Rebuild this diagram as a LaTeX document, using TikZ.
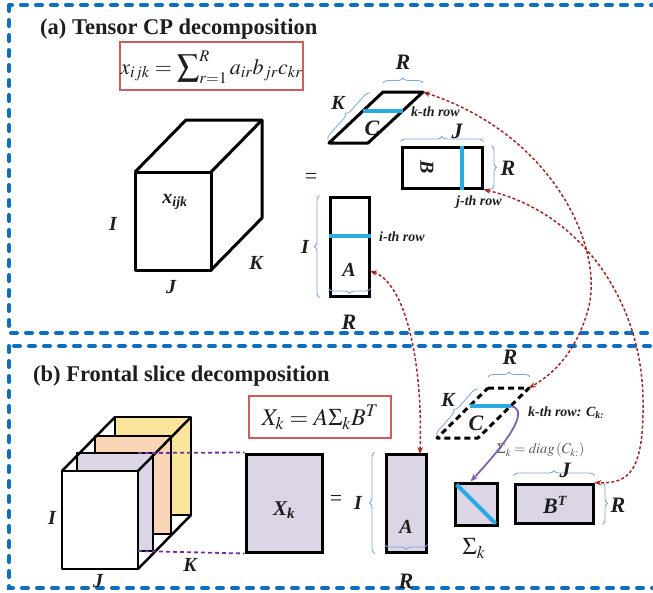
\documentclass[tikz,border=0pt]{standalone}
\usepackage{mathptmx}
\usepackage{fontspec}
\setmainfont{Liberation Serif}
\usetikzlibrary{arrows.meta,decorations.pathreplacing,calc}

\definecolor{frameblue}{RGB}{16,110,190}
\definecolor{rowblue}{RGB}{41,171,226}
\definecolor{bracecol}{RGB}{125,165,215}
\definecolor{linkred}{RGB}{160,40,40}
\definecolor{eqred}{RGB}{205,95,90}
\definecolor{slicepurple}{RGB}{220,213,230}
\definecolor{sliceorange}{RGB}{250,214,183}
\definecolor{sliceyellow}{RGB}{251,228,155}
\definecolor{guidepurple}{RGB}{112,48,160}
\definecolor{mappurple}{RGB}{128,100,170}
\definecolor{ink}{RGB}{30,30,30}

\newcommand{\fsz}[1]{\fontsize{#1}{#1}\selectfont}

\begin{document}
\begin{tikzpicture}[x=1pt,y=-1pt,
  frame/.style={frameblue, line width=4pt, dash pattern=on 6pt off 9pt, line cap=round},
  title/.style={anchor=base west, inner sep=0, text=ink, font=\fsz{22.5}\bfseries},
  eqbox/.style={draw=eqred, line width=1.3pt, inner sep=0, text=ink},
  mat/.style={draw=black, line width=3pt, inner sep=0},
  row/.style={rowblue, line width=4pt},
  lab/.style={inner sep=0, text=ink, font=\fsz{20}\bfseries\itshape},
  small/.style={inner sep=0, text=ink, font=\fsz{14}\bfseries\itshape},
  brace/.style={decorate, decoration={brace, amplitude=5pt}, bracecol, line width=0.8pt},
  link/.style={linkred, line width=1.5pt, dash pattern=on 3pt off 2.2pt,
    {Stealth[length=7pt,width=5.5pt]}-{Stealth[length=7pt,width=5.5pt]}},
  guide/.style={guidepurple, line width=1.8pt, dash pattern=on 4pt off 3pt},
  slice/.style={draw=black, line width=2.5pt, line join=round},
  cube/.style={draw=black, line width=3pt, line join=round},
  map/.style={mappurple, line width=1.8pt, -{Stealth[length=8pt,width=6pt]}}
]
\useasboundingbox (0,0) rectangle (653,592);
\clip (0,0) rectangle (653,592);

% dashed panel frames
\draw[frame] (9,5) rectangle (680,333);
\draw[frame] (9,346) rectangle (680,588);

% ---------------- (a) CP decomposition ----------------
\node[title] (ta) at (40,34) {(a) Tensor CP decomposition};
\node[eqbox, minimum width=183, minimum height=48] (eqa) at (211.5,66) {};
\node[inner sep=0, text=ink] (eqatext) at (211.5,67)
  {\fsz{22}$x_{ijk} = \displaystyle\sum\nolimits_{r=1}^{R} a_{ir} b_{jr} c_{kr}$};

% tensor cube
\coordinate (fTL) at (135,172);
\coordinate (fTR) at (211,172);
\coordinate (fBR) at (211,270);
\coordinate (fBL) at (135,270);
\coordinate (bTL) at (186,120);
\coordinate (bTR) at (262,120);
\coordinate (bBR) at (262,218);
\draw[cube] (fTL) rectangle (fBR);
\draw[cube] (fTL) -- (bTL) -- (bTR) -- (fTR);
\draw[cube] (bTR) -- (bBR) -- (fBR);
\node[lab] (xijk) at (175,202) {x\textsubscript{\fsz{14}ijk}};
\node[lab] (cI) at (113,224) {I};
\node[lab] (cJ) at (171,287) {J};
\node[lab] (cK) at (256,263) {K};
\node[inner sep=0, text=ink, font=\fsz{22}] (eqs) at (311,178) {=};

% factor C (parallelogram)
\coordinate (Ca-tl) at (383,92);
\coordinate (Ca-tr) at (423,92);
\coordinate (Ca-br) at (368,143);
\coordinate (Ca-bl) at (329,143);
\draw[cube] (Ca-tl) -- (Ca-tr) -- (Ca-br) -- (Ca-bl) -- cycle;
\draw[row] ($(Ca-tl)!0.37!(Ca-bl)$) -- ($(Ca-tr)!0.37!(Ca-br)$);
\node[lab, font=\fsz{22}\bfseries\itshape] (Cal) at (372,128) {C};
\node[small, anchor=west] (kra) at (411,112) {k-th row};
\coordinate (Ka1) at (328,140);
\coordinate (Ka2) at (370,93);
\draw[brace] (Ka1) -- (Ka2);
\node[lab] (Kal) at (338,103) {K};
\coordinate (Ra1) at (383,83);
\coordinate (Ra2) at (423,83);
\draw[brace] (Ra1) -- (Ra2);
\node[lab, font=\fsz{22}\bfseries\itshape] (Ral) at (403,62) {R};

% factor B
\node[mat, minimum width=80, minimum height=41] (Ba) at (442,167.5) {};
\draw[row] ($(Ba.north west)!0.74!(Ba.north east)$) -- ($(Ba.south west)!0.74!(Ba.south east)$);
\node[lab, rotate=-90] (Bal) at (427,167) {B};
\draw[brace] ([yshift=4]Ba.north west) -- ([yshift=4]Ba.north east);
\node[lab, font=\fsz{22}\bfseries\itshape] (Jb) at (457,131) {J};
\draw[brace] ([xshift=8]Ba.north east) -- ([xshift=8]Ba.south east);
\node[lab, font=\fsz{22}\bfseries\itshape] (Rb) at (508,168) {R};
\node[small] (jra) at (479,202) {j-th row};

% factor A
\node[mat, minimum width=39, minimum height=99] (Aa) at (349.5,246.5) {};
\draw[row] ($(Aa.north west)!0.4!(Aa.south west)$) -- ($(Aa.north east)!0.4!(Aa.south east)$);
\node[lab] (Aal) at (349,270) {A};
\node[small] (ira) at (402,237) {i-th row};
\draw[brace] ([xshift=-9]Aa.south west) -- ([xshift=-9]Aa.north west);
\node[lab] (IA) at (305,247) {I};
\draw[brace] ([yshift=9]Aa.south east) -- ([yshift=9]Aa.south west);
\node[lab, font=\fsz{22}\bfseries\itshape] (RA) at (349,322) {R};

% ---------------- (b) frontal slices ----------------
\node[title] (tb) at (33,381) {(b) Frontal slice decomposition};
\node[eqbox, minimum width=142, minimum height=42] (eqb) at (320,417) {};
\node[inner sep=0, text=ink] (eqbtext) at (320,417)
  {\fsz{24}$X_k = A\Sigma_k B^T$};

% stack of frontal slices
\draw[slice, fill=sliceyellow] (115,417) rectangle (191,515);
\draw[slice, fill=sliceorange] (95,436) rectangle (171,534);
\draw[slice, fill=slicepurple] (77,453) rectangle (153,551);
\draw[slice, fill=white] (62,471) rectangle (138,569);
\draw[slice] (62,471) -- (115,417) (138,471) -- (191,417) (138,569) -- (191,515);
\node[lab] (sI) at (52,518) {I};
\node[lab] (sJ) at (98,581) {J};
\node[lab] (sK) at (190,565) {K};

% slice X_k
\node[mat, fill=slicepurple, minimum width=76, minimum height=98] (Xk) at (284,503) {};
\node[lab, font=\fsz{21}\bfseries\itshape] (Xkl) at (284,510) {X\textsubscript{\fsz{15}k}};
\coordinate (gTop) at (138,453);
\coordinate (gBot) at (138,551);
\draw[guide] (gTop) -- (Xk.north west);
\draw[guide] (gBot) -- (Xk.south west);
\node[inner sep=0, text=ink, font=\fsz{22}] (eqs2) at (336,500) {=};

% A
\node[mat, fill=slicepurple, minimum width=40, minimum height=98] (Ab) at (406,503) {};
\node[lab] (Abl) at (406,527) {A};
\draw[brace] ([xshift=-10]Ab.south west) -- ([xshift=-10]Ab.north west);
\node[lab] (IAb) at (358,503) {I};
\draw[brace] ([yshift=9]Ab.south east) -- ([yshift=9]Ab.south west);
\node[lab, font=\fsz{22}\bfseries\itshape] (RAb) at (406,581) {R};

% C with its k-th row
\coordinate (Cb-tl) at (488,388);
\coordinate (Cb-tr) at (529,388);
\coordinate (Cb-br) at (478,438);
\coordinate (Cb-bl) at (437,438);
\draw[black, line width=3pt, dash pattern=on 6pt off 4pt, line join=round]
  (Cb-tl) -- (Cb-tr) -- (Cb-br) -- (Cb-bl) -- cycle;
\coordinate (kr1) at ($(Cb-tl)!0.36!(Cb-bl)$);
\coordinate (kr2) at ($(Cb-tr)!0.36!(Cb-br)$);
\draw[row] (kr1) -- (kr2);
\node[lab, font=\fsz{22}\bfseries\itshape] (Cbl) at (476,423) {C};
\coordinate (Rc1) at (488,377);
\coordinate (Rc2) at (530,377);
\draw[brace] (Rc1) -- (Rc2);
\node[lab, font=\fsz{22}\bfseries\itshape] (Rcl) at (510,357) {R};
\coordinate (Kc1) at (437,436);
\coordinate (Kc2) at (478,389);
\draw[brace] (Kc1) -- (Kc2);
\node[lab] (Kcl) at (448,400) {K};
\node[small, anchor=west] (krb) at (528,413) {k-th row: C\textsubscript{\fsz{10}k:}};
\node[inner sep=0, anchor=west, text=black!65, font=\fsz{14.5}] (dg) at (497,450)
  {$\Sigma_k = \mathit{diag}\left(C_{k:}\right)$};

% Sigma_k
\node[mat, fill=slicepurple, minimum width=42, minimum height=42] (Sig) at (476,504) {};
\draw[row] ([shift={(3,3)}]Sig.north west) -- ([shift={(-3,-3)}]Sig.south east);
\node[inner sep=0, text=ink, font=\fsz{24}] (Sigl) at (474,549) {$\Sigma_k$};
\draw[map] (kr2) .. controls (524,408) and (524,424) .. ([shift={(17,0)}]Sig.north west);

% B^T
\node[mat, fill=slicepurple, minimum width=78, minimum height=39] (BT) at (554,503.5) {};
\node[lab, font=\fsz{22}\bfseries\itshape] (BTl) at (555,505) {B\textsuperscript{\fsz{14}T}};
\draw[brace] ([yshift=7]BT.north west) -- ([yshift=7]BT.north east);
\node[lab, font=\fsz{22}\bfseries\itshape] (JBT) at (565,470) {J};
\draw[brace] ([xshift=8]BT.north east) -- ([xshift=8]BT.south east);
\node[lab, font=\fsz{22}\bfseries\itshape] (RBT) at (618,505) {R};

% correspondences between the factors
\coordinate (Aa-in) at (370,271);
\coordinate (Ab-in) at (420,454);
\draw[link] (Aa-in) .. controls (405,283) and (423,360) .. (Ab-in);
\draw[link] (Ca-tr) .. controls (555,135) and (605,250) .. (588,310)
  .. controls (578,345) and (560,370) .. (Cb-tr);
\draw[link] (Ba.south east) .. controls (580,212) and (642,300) .. (643,400)
  .. controls (644,470) and (630,484) .. (BT.north east);
\end{tikzpicture}
\end{document}
